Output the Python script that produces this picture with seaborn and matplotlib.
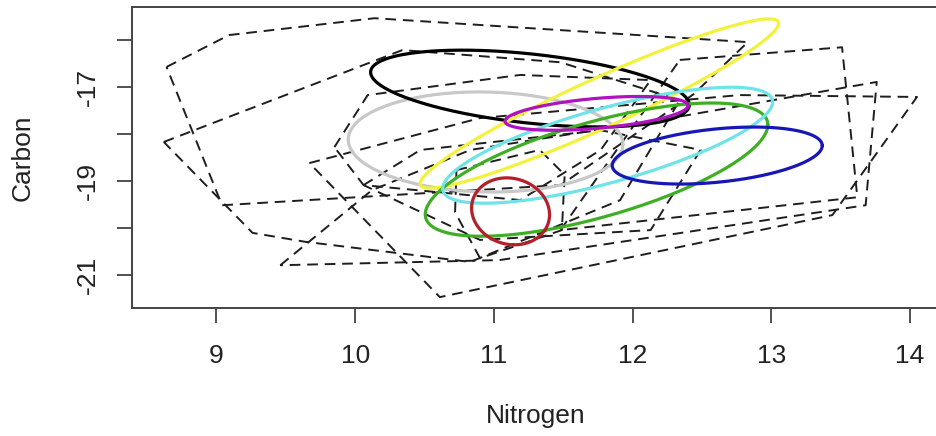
import numpy as np
import pandas as pd
import matplotlib
matplotlib.use("Agg")
import matplotlib.pyplot as plt
import seaborn as sns

# Convex hulls of the groups (Nitrogen, Carbon vertices)
hull_1_x = [8.64, 9.09, 10.14, 12.83, 12.44, 11.48, 9.04]
hull_1_y = [-16.57, -15.89, -15.53, -16.04, -17.15, -19.09, -19.52]
hull_2_x = [8.62, 10.34, 11.48, 12.34, 11.91, 10.83, 9.64, 9.26]
hull_2_y = [-18.17, -16.21, -16.47, -17.28, -19.41, -20.73, -20.30, -20.11]
hull_3_x = [9.67, 10.90, 12.77, 14.05, 13.44, 10.61]
hull_3_y = [-18.62, -17.66, -17.17, -17.21, -19.73, -21.48]
hull_4_x = [9.46, 10.12, 10.83, 12.20, 13.76, 13.68, 11.04]
hull_4_y = [-20.80, -19.20, -18.34, -17.70, -16.89, -19.52, -20.69]
hull_5_x = [12.34, 13.51, 13.62, 11.48]
hull_5_y = [-16.42, -16.15, -19.35, -20.05]
hull_6_x = [9.85, 10.09, 11.19, 12.13, 11.77, 11.19, 10.06]
hull_6_y = [-18.28, -17.17, -16.74, -16.85, -18.34, -19.41, -19.09]
hull_7_x = [10.73, 11.33, 11.51, 11.49, 10.90, 10.72]
hull_7_y = [-18.77, -18.34, -18.87, -20.05, -20.65, -19.67]
hull_8_x = [10.06, 10.47, 11.77, 12.49, 12.13, 10.90]
hull_8_y = [-19.09, -18.34, -17.92, -18.34, -20.05, -20.26]

hulls_x = [hull_1_x, hull_2_x, hull_3_x, hull_4_x, hull_5_x, hull_6_x, hull_7_x, hull_8_x]
hulls_y = [hull_1_y, hull_2_y, hull_3_y, hull_4_y, hull_5_y, hull_6_y, hull_7_y, hull_8_y]

# Standard ellipses: group means and covariance entries
ellipse_colors = ["#c8c8c8", "black", "#f2f23c", "#3fae24", "#6fe3e8",
                  "#b012c0", "#1717b5", "#b3202a"]
mean_n = [10.94, 11.26, 11.76, 11.74, 11.82, 11.74, 12.61, 11.12]
mean_c = [-18.17, -17.03, -17.35, -18.76, -18.24, -17.56, -18.46, -19.65]
var_n = [0.98, 1.32, 1.67, 1.525, 1.415, 0.436, 0.573, 0.079]
var_c = [1.14, 0.67, 3.26, 2.02, 1.53, 0.13, 0.37, 0.51]
cov_nc = [-0.05, -0.40, 2.21, 1.18, 1.10, 0.11, 0.16, -0.02]

x_ticks = [9, 10, 11, 12, 13, 14]
y_ticks = [-21, -20, -19, -18, -17, -16]
y_tick_labels = ["-21", "", "-19", "", "-17", ""]


def ellipse_frame(cx, cy, sxx, syy, sxy, n=240):
    """Boundary of the covariance ellipse as a DataFrame."""
    t = np.linspace(0, 2 * np.pi, n)
    L = np.linalg.cholesky(np.array([[sxx, sxy], [sxy, syy]]))
    pts = L @ np.vstack([np.cos(t), np.sin(t)])
    return pd.DataFrame({"x": cx + pts[0], "y": cy + pts[1]})


sns.set_style("white")
plt.rcParams["font.family"] = ["Liberation Sans", "DejaVu Sans"]

fig = plt.figure(figsize=(9.37, 4.36), dpi=100)
ax = fig.add_axes([0.1409, 0.2936, 0.8623, 0.690])

# Hulls: dashed black polygons
for hx, hy in zip(hulls_x, hulls_y):
    df = pd.DataFrame({"x": hx + [hx[0]], "y": hy + [hy[0]]})
    sns.lineplot(data=df, x="x", y="y", sort=False, estimator=None, ax=ax,
                 color="#1e1e1e", linewidth=1.4, dashes=False)
    ax.lines[-1].set_dashes([5.5, 3.5])

# Ellipses
for i, col in enumerate(ellipse_colors):
    df = ellipse_frame(mean_n[i], mean_c[i], var_n[i], var_c[i], cov_nc[i])
    sns.lineplot(data=df, x="x", y="y", sort=False, estimator=None, ax=ax,
                 color=col, linewidth=2.3)

ax.set_xlim(8.391, 14.216)
ax.set_ylim(-21.712, -15.294)
ax.set_xticks(x_ticks)
ax.set_xticklabels([str(v) for v in x_ticks])
ax.set_yticks(y_ticks)
ax.set_yticklabels(y_tick_labels, rotation=90, va="center")
ax.tick_params(axis="both", direction="out", length=11, width=1.2,
               color="#333333", labelsize=19, labelcolor="#222222",
               bottom=True, left=True)
ax.tick_params(axis="x", pad=15)
ax.tick_params(axis="y", pad=12)
ax.set_xlabel("Nitrogen", fontsize=19, color="#222222", labelpad=26)
ax.set_ylabel("Carbon", fontsize=19, color="#222222", labelpad=30)
for s in ax.spines.values():
    s.set_color("#444444")
    s.set_linewidth(1.4)

fig.savefig("out.png", dpi=100)
